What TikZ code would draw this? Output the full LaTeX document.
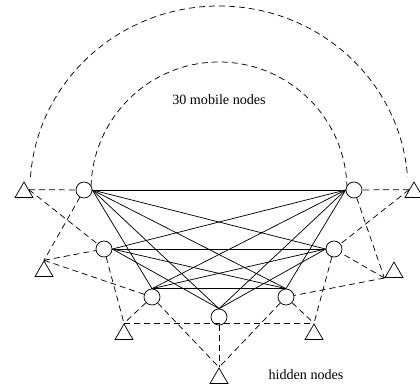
\documentclass[tikz,border=0pt]{standalone}
\usepackage{fontspec}
\setmainfont{Liberation Serif}
\usetikzlibrary{shapes.geometric}
\begin{document}
\begin{tikzpicture}[x=0.75pt,y=-0.75pt,line width=0.55pt,
  mobile/.style={circle,draw,minimum size=12pt,inner sep=0pt},
  hidden/.style={regular polygon,regular polygon sides=3,draw,
                 minimum size=15.6pt,inner sep=0pt},
  radiolink/.style={dash pattern=on 4.5pt off 3pt},
  caption/.style={font=\fontsize{10.6}{12.5}\selectfont,inner sep=0pt}]
\useasboundingbox (0,0) rectangle (420,387);

% mobile nodes
\node[mobile] (C1) at (84,190) {};
\node[mobile] (C2) at (104,249) {};
\node[mobile] (C3) at (152,297) {};
\node[mobile] (C4) at (219,317) {};
\node[mobile] (C5) at (286,297) {};
\node[mobile] (C6) at (334,249) {};
\node[mobile] (C7) at (354,190) {};

% hidden nodes
\node[hidden] (T1) at (24,192.4) {};
\node[hidden] (T2) at (44,271.4) {};
\node[hidden] (T3) at (124,334.4) {};
\node[hidden] (T4) at (219,378.4) {};
\node[hidden] (T5) at (314,334.4) {};
\node[hidden] (T6) at (394,272.4) {};
\node[hidden] (T7) at (414,192.4) {};

% radio ranges
\draw[radiolink] (219,190) ++(181.7:128 and 128)
  arc[start angle=181.7,end angle=358.3,x radius=128,y radius=128];
\draw[radiolink] (219,190) ++(184:189 and 184)
  arc[start angle=184,end angle=356,x radius=189,y radius=184];

% links between mobile nodes
\foreach \b in {C3.north,C4.north,C5.north,C6.west,C7.west}
  \draw (C1.east) -- (\b);
\foreach \b in {C4.north,C5.north,C6.west,C7.west}
  \draw (C2.east) -- (\b);
\foreach \b in {C5.north,C6.west,C7.west}
  \draw (C3.north) -- (\b);
\foreach \b in {C6.west,C7.west}
  \draw (C4.north) -- (\b);
\draw (C5.north) -- (C7.west);

% links to hidden nodes
\draw[radiolink] (T1.side 3) -- (C1);
\draw[radiolink] (T1.side 3) -- (C2);
\draw[radiolink] (C1) -- (T2.corner 1);
\draw[radiolink] (T2.corner 1) -- (C2);
\draw[radiolink] (T2.corner 1) -- (C3);
\draw[radiolink] (C2) -- (T3.corner 1);
\draw[radiolink] (C3) -- (T3.corner 1);
\draw[radiolink] (T3.corner 1) -- (T5.corner 1);
\draw[radiolink] (C3) -- (T4.corner 1);
\draw[radiolink] (C4) -- (T4.corner 1);
\draw[radiolink] (T7.side 1) -- (C7);
\draw[radiolink] (T7.side 1) -- (C6);
\draw[radiolink] (C7) -- (T6.corner 2);
\draw[radiolink] (T6.corner 2) -- (C6);
\draw[radiolink] (T6.corner 2) -- (C5);
\draw[radiolink] (C6) -- (T5.corner 1);
\draw[radiolink] (C5) -- (T5.corner 1);
\draw[radiolink] (C5) -- (T4.corner 1);

% captions
\node[caption] (mob) at (219,100) {30 mobile nodes};
\node[caption] (hid) at (306,375) {hidden nodes};
\end{tikzpicture}
\end{document}
